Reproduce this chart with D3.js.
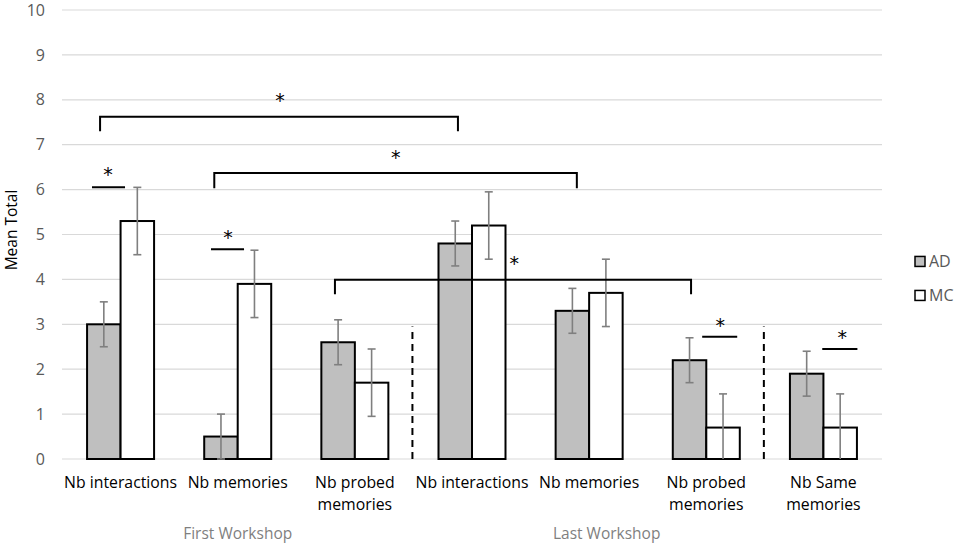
<!DOCTYPE html>
<html>
<head>
<meta charset="utf-8">
<script src="https://cdn.jsdelivr.net/npm/d3@7"></script>
<style>
  body { margin: 0; background: #fff; }
  svg { display: block; font-family: "Open Sans", sans-serif; }
</style>
</head>
<body>
<svg id="chart"></svg>
<script>
// ==============================
// DATA
// ==============================
const categories = [
  ["Nb interactions"],
  ["Nb memories"],
  ["Nb probed", "memories"],
  ["Nb interactions"],
  ["Nb memories"],
  ["Nb probed", "memories"],
  ["Nb Same", "memories"]
];
const seriesNames = ["AD", "MC"];
const adValues = [3.0, 0.5, 2.6, 4.8, 3.3, 2.2, 1.9];
const mcValues = [5.3, 3.9, 1.7, 5.2, 3.7, 0.7, 0.7];
const adErrors = [0.5, 0.5, 0.5, 0.5, 0.5, 0.5, 0.5];
const mcErrors = [0.75, 0.75, 0.75, 0.75, 0.75, 0.75, 0.75];
const yTicks = [0, 1, 2, 3, 4, 5, 6, 7, 8, 9, 10];

// groups under the axis (position in category units)
const groupLabels = [
  { text: "First Workshop", at: 1.5 },
  { text: "Last Workshop", at: 4.65 }
];

// dashed separators (at category boundary, up to value)
const separators = [
  { at: 3, top: 2.95 },
  { at: 6, top: 2.95 }
];

// brackets between workshops (category units / values)
const brackets = [
  { x1: 0.325, x2: 3.38, y: 7.62, drop: 7.3, starX: 1.86, starY: 8.1 },
  { x1: 1.30, x2: 4.395, y: 6.37, drop: 6.03, starX: 2.85, starY: 6.83 },
  { x1: 2.33, x2: 5.37, y: 3.99, drop: 3.67, starX: 3.86, starY: 4.47 }
];

// within-category significance lines
const sigLines = [
  { x1: 0.256, x2: 0.538, y: 6.05, starX: 0.393, starY: 6.45 },
  { x1: 1.272, x2: 1.554, y: 4.67, starX: 1.418, starY: 5.05 },
  { x1: 5.465, x2: 5.764, y: 2.72, starX: 5.619, starY: 3.08 },
  { x1: 6.49, x2: 6.79, y: 2.45, starX: 6.66, starY: 2.82 }
];

// ==============================
// SVG + DIMENSIONS
// ==============================
const width = 957;
const height = 546;
const margin = { top: 10, right: 75, bottom: 87, left: 62 };

const svg = d3.select("#chart")
  .attr("width", width)
  .attr("height", height);

const innerW = width - margin.left - margin.right;
const innerH = height - margin.top - margin.bottom;

const g = svg.append("g")
  .attr("transform", `translate(${margin.left},${margin.top})`);

// ==============================
// SCALES
// ==============================
const y = d3.scaleLinear().domain([0, 10]).range([innerH, 0]);
const xc = d3.scaleLinear().domain([0, categories.length]).range([0, innerW]);
const band = xc(1) - xc(0);
const barW = band * 0.286;

const colors = { AD: "#bfbfbf", MC: "#ffffff" };

// ==============================
// GRID + Y AXIS
// ==============================
g.selectAll("line.grid")
  .data(yTicks)
  .enter()
  .append("line")
  .attr("class", "grid")
  .attr("x1", 0)
  .attr("x2", innerW)
  .attr("y1", d => y(d))
  .attr("y2", d => y(d))
  .attr("stroke", "#d9d9d9")
  .attr("stroke-width", 1.2);

const yAxis = g.append("g")
  .call(d3.axisLeft(y).tickValues(yTicks).tickSize(0).tickPadding(17));
yAxis.select(".domain").remove();
yAxis.selectAll("text")
  .attr("fill", "#595959")
  .style("font-size", "16px")
  .style("font-family", "'Open Sans', sans-serif");

svg.append("text")
  .attr("transform", `translate(17,${margin.top + y(5.1)}) rotate(-90)`)
  .attr("text-anchor", "middle")
  .attr("fill", "#000")
  .style("font-size", "15.5px")
  .text("Mean Total");

// ==============================
// BARS
// ==============================
const rows = categories.map((c, i) => ({
  i,
  bars: [
    { key: "AD", value: adValues[i], err: adErrors[i], off: -1 },
    { key: "MC", value: mcValues[i], err: mcErrors[i], off: 0 }
  ]
}));

const catG = g.selectAll("g.cat")
  .data(rows)
  .enter()
  .append("g")
  .attr("class", "cat")
  .attr("transform", d => `translate(${xc(d.i + 0.5)},0)`);

catG.selectAll("rect")
  .data(d => d.bars)
  .enter()
  .append("rect")
  .attr("x", d => d.off * barW)
  .attr("width", barW)
  .attr("y", d => y(d.value))
  .attr("height", d => y(0) - y(d.value))
  .attr("fill", d => colors[d.key])
  .attr("stroke", "#000")
  .attr("stroke-width", 2);

// error bars
const errG = catG.selectAll("g.err")
  .data(d => d.bars)
  .enter()
  .append("g")
  .attr("class", "err")
  .attr("transform", d => `translate(${(d.off + 0.5) * barW},0)`)
  .attr("stroke", "#7f7f7f")
  .attr("stroke-width", 1.6);

errG.append("line")
  .attr("y1", d => y(Math.max(0, d.value - d.err)))
  .attr("y2", d => y(d.value + d.err));
errG.append("line")
  .attr("x1", -4).attr("x2", 4)
  .attr("y1", d => y(d.value + d.err))
  .attr("y2", d => y(d.value + d.err));
errG.filter(d => d.value - d.err >= 0)
  .append("line")
  .attr("x1", -4).attr("x2", 4)
  .attr("y1", d => y(d.value - d.err))
  .attr("y2", d => y(d.value - d.err));

// ==============================
// SEPARATORS
// ==============================
g.selectAll("line.sep")
  .data(separators)
  .enter()
  .append("line")
  .attr("class", "sep")
  .attr("x1", d => xc(d.at) - 1)
  .attr("x2", d => xc(d.at) - 1)
  .attr("y1", y(0))
  .attr("y2", d => y(d.top))
  .attr("stroke", "#000")
  .attr("stroke-width", 2)
  .attr("stroke-dasharray", "7,5");

// ==============================
// BRACKETS + STARS
// ==============================
g.selectAll("path.bracket")
  .data(brackets)
  .enter()
  .append("path")
  .attr("class", "bracket")
  .attr("d", d => `M${xc(d.x1)},${y(d.drop)}V${y(d.y)}H${xc(d.x2)}V${y(d.drop)}`)
  .attr("fill", "none")
  .attr("stroke", "#000")
  .attr("stroke-width", 2);

g.selectAll("line.sig")
  .data(sigLines)
  .enter()
  .append("line")
  .attr("class", "sig")
  .attr("x1", d => xc(d.x1))
  .attr("x2", d => xc(d.x2))
  .attr("y1", d => y(d.y))
  .attr("y2", d => y(d.y))
  .attr("stroke", "#000")
  .attr("stroke-width", 2);

g.selectAll("text.star")
  .data(brackets.concat(sigLines))
  .enter()
  .append("text")
  .attr("class", "star")
  .attr("x", d => xc(d.starX))
  .attr("y", d => y(d.starY))
  .attr("dy", "0.62em")
  .attr("text-anchor", "middle")
  .attr("fill", "#000")
  .style("font-family", "'DejaVu Sans', sans-serif")
  .style("font-size", "19px")
  .text("*");

// ==============================
// CATEGORY + GROUP LABELS
// ==============================
const catLabels = g.selectAll("text.catlabel")
  .data(categories)
  .enter()
  .append("text")
  .attr("class", "catlabel")
  .attr("x", (d, i) => xc(i + 0.5))
  .attr("y", innerH + 29)
  .attr("text-anchor", "middle")
  .attr("fill", "#000")
  .style("font-size", "15.8px");

catLabels.selectAll("tspan")
  .data(d => d)
  .enter()
  .append("tspan")
  .attr("x", function () { return d3.select(this.parentNode).attr("x"); })
  .attr("dy", (d, i) => i === 0 ? 0 : "1.42em")
  .text(d => d);

g.selectAll("text.group")
  .data(groupLabels)
  .enter()
  .append("text")
  .attr("class", "group")
  .attr("x", d => xc(d.at))
  .attr("y", innerH + 80)
  .attr("text-anchor", "middle")
  .attr("fill", "#7f7f7f")
  .style("font-size", "15.5px")
  .text(d => d.text);

// ==============================
// LEGEND
// ==============================
const legend = svg.append("g")
  .attr("transform", `translate(${width - 42},${margin.top + y(4.4)})`);

const legendItem = legend.selectAll("g")
  .data(seriesNames)
  .enter()
  .append("g")
  .attr("transform", (d, i) => `translate(0,${i * 34})`);

legendItem.append("rect")
  .attr("x", 0).attr("y", -5)
  .attr("width", 10).attr("height", 10)
  .attr("fill", d => colors[d])
  .attr("stroke", "#000")
  .attr("stroke-width", 1.5);

legendItem.append("text")
  .attr("x", 14)
  .attr("dy", "0.35em")
  .attr("fill", "#595959")
  .style("font-size", "16px")
  .text(d => d);
</script>
</body>
</html>
